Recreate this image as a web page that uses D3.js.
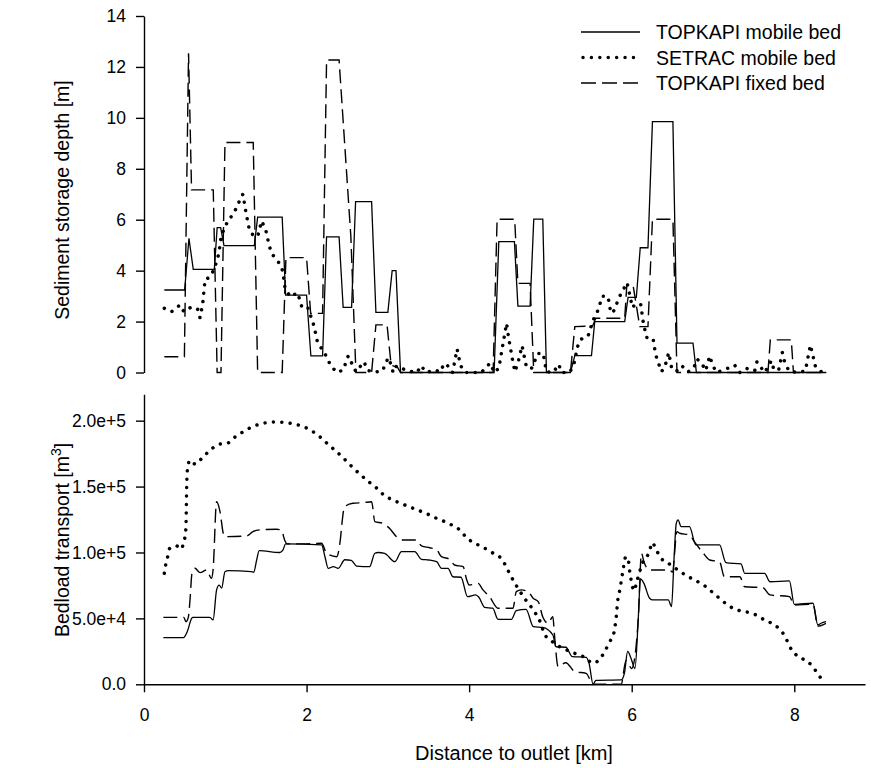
<!DOCTYPE html>
<html>
<head>
<meta charset="utf-8">
<script src="https://cdn.jsdelivr.net/npm/d3@7"></script>
<style>
  body { margin: 0; background: #fff; }
  svg { display: block; font-family: "Liberation Sans", Arial, sans-serif; }
</style>
</head>
<body>
<svg id="vis" width="871" height="768"></svg>
<script>
// legend / series names
var seriesNames = ['TOPKAPI mobile bed', 'SETRAC mobile bed', 'TOPKAPI fixed bed'];
var xTicks = [0, 2, 4, 6, 8];
var depthTicks = [0, 2, 4, 6, 8, 10, 12, 14];
var transportTicks = [0, 50000, 100000, 150000, 200000];

// sediment storage depth [m] vs distance [km]
var depthTopkapiMobile = [
  [0.25,3.24],[0.50,3.24],[0.553,5.27],[0.606,4.05],[0.865,4.05],[0.90,5.69],[0.943,5.69],
  [0.984,4.98],[1.357,4.98],[1.398,6.1],[1.70,6.1],[1.742,3.04],[2.0,3.04],[2.053,0.65],
  [2.197,0.65],[2.246,5.33],[2.40,5.33],[2.45,2.56],[2.554,2.56],[2.603,6.71],[2.80,6.71],
  [2.853,2.36],[3.0,2.36],[3.053,4.0],[3.10,4.0],[3.156,0],[4.307,0],[4.365,5.14],[4.557,5.14],
  [4.60,2.61],[4.75,2.61],[4.795,6.02],[4.906,6.02],[4.951,0],[5.246,0],[5.30,0.66],[5.505,0.66],
  [5.545,2.0],[5.914,2.0],[5.955,2.95],[6.057,2.95],[6.105,4.9],[6.2,4.9],[6.255,9.85],
  [6.507,9.85],[6.557,1.15],[6.754,1.15],[6.796,0],[8.394,0]
];
var depthSetrac = [
  [0.25,2.52],[0.34,2.39],[0.443,2.65],[0.49,2.39],[0.586,2.58],[0.66,2.48],[0.689,2.15],
  [0.722,2.69],[0.741,3.33],[0.754,3.67],[0.803,3.72],[0.864,4.05],[0.922,4.68],[0.947,5.33],
  [0.984,5.62],[1.037,5.99],[1.098,6.21],[1.147,6.54],[1.201,6.93],[1.217,7.0],[1.254,6.29],
  [1.295,5.62],[1.332,5.43],[1.398,5.33],[1.447,5.95],[1.496,5.62],[1.541,4.97],[1.578,4.64],
  [1.66,4.31],[1.705,4.0],[1.734,3.35],[1.795,2.98],[1.89,3.13],[1.946,2.52],[2.02,2.52],
  [2.09,1.84],[2.136,1.17],[2.197,0.88],[2.254,0.58],[2.296,0.26],[2.377,0.0],[2.45,0.1],
  [2.512,0.65],[2.561,0.33],[2.607,0.03],[2.709,0.42],[2.746,0.1],[2.82,0],[2.935,0.07],
  [3.004,0.58],[3.037,0.33],[3.065,0],[3.107,0.26],[3.169,0.16],[3.258,0.06],[3.36,0],
  [3.406,0.27],[3.476,0],[3.57,0.1],[3.648,0.03],[3.692,0.36],[3.734,0.27],[3.796,0],
  [3.852,0.92],[3.894,0.27],[3.955,0],[4.152,0],[4.221,0.27],[4.267,0.36],[4.303,0],
  [4.365,0.16],[4.418,1.15],[4.46,1.93],[4.492,1.25],[4.528,0.6],[4.562,0.03],[4.602,0.39],
  [4.651,1.05],[4.706,0.2],[4.767,0.16],[4.848,0.75],[4.91,0.75],[4.951,0.03],[5.033,0],
  [5.103,0.32],[5.136,0],[5.238,0],[5.291,0.36],[5.333,1.01],[5.373,1.3],[5.463,1.43],
  [5.525,2.06],[5.574,2.35],[5.64,3.0],[5.709,2.98],[5.742,2.35],[5.77,2.35],[5.853,3.0],
  [5.943,3.53],[6.009,2.55],[6.05,2.7],[6.111,2.68],[6.139,2.03],[6.181,1.38],[6.262,1.34],
  [6.295,0.69],[6.365,0.03],[6.406,0.2],[6.455,0.78],[6.496,0.1],[6.557,0.07],[6.615,0.27],
  [6.693,0.02],[6.766,0.2],[6.803,0.53],[6.857,0.39],[6.91,0.07],[6.96,0.65],[6.992,0.32],
  [7.042,0],[7.156,0.13],[7.267,0.29],[7.328,0],[7.41,0.16],[7.513,0.07],[7.541,0.42],
  [7.583,0.23],[7.636,0],[7.718,0.46],[7.75,0.1],[7.808,0.1],[7.853,0.78],[7.881,0.42],
  [7.934,0.06],[8.033,0],[8.136,0.06],[8.198,1.08],[8.263,0.2],[8.345,0]
];
var depthTopkapiFixed = [
  [0.25,0.62],[0.497,0.62],[0.548,12.54],[0.585,7.17],[0.852,7.17],[0.90,0],[0.947,0],
  [0.996,9.03],[1.344,9.03],[1.398,0],[1.70,0],[1.746,4.51],[2.0,4.51],[2.05,2.32],
  [2.197,2.32],[2.246,12.27],[2.40,12.27],[2.545,5.33],[2.607,0],[2.80,0],[2.853,1.87],
  [2.99,1.87],[3.04,0.29],[3.12,0.2],[3.156,0],[4.295,0],[4.344,6.02],[4.56,6.02],[4.60,3.5],
  [4.75,3.5],[4.795,0],[5.246,0],[5.30,1.8],[5.52,1.83],[5.557,2.13],[5.914,2.13],[5.94,3.44],
  [6.016,3.44],[6.099,1.8],[6.2,1.8],[6.255,6.02],[6.507,6.02],[6.557,0],[7.676,0],
  [7.705,1.28],[7.963,1.28],[7.99,0],[8.394,0]
];

// bedload transport [m3] vs distance [km]
var loadTopkapiMobile = [
  [0.238,35400],[0.484,35400],[0.533,40000],[0.586,50000],[0.60,50800],[0.81,50800],
  [0.85,48800],[0.893,71600],[0.925,75300],[0.955,73000],[0.996,85400],[1.037,86200],
  [1.32,85400],[1.35,85000],[1.386,94300],[1.417,101400],[1.672,100000],[1.71,102000],
  [1.742,106500],[2.185,105700],[2.226,96800],[2.266,88000],[2.33,89200],[2.39,88000],
  [2.47,94500],[2.55,94000],[2.615,89700],[2.775,89200],[2.84,99400],[2.88,100000],
  [2.96,99400],[3.086,93000],[3.168,100600],[3.33,100600],[3.414,94800],[3.5,94300],
  [3.6,93000],[3.66,88000],[3.74,88000],[3.80,81600],[3.90,81200],[3.98,66500],[4.08,67800],
  [4.12,66000],[4.19,58400],[4.29,57700],[4.355,49300],[4.52,49300],[4.58,55800],[4.70,56900],
  [4.79,43700],[4.905,43200],[5.03,37400],[5.07,28500],[5.19,28100],[5.27,21000],[5.44,20500],
  [5.475,16000],[5.525,0],[5.56,3000],[5.87,3300],[5.91,8300],[5.95,25000],[5.99,20000],
  [6.04,12000],[6.08,49000],[6.107,80000],[6.15,76600],[6.22,65300],[6.26,64000],[6.45,64000],
  [6.49,58900],[6.52,94300],[6.548,122000],[6.57,124700],[6.608,119600],[6.71,119600],
  [6.79,105700],[7.08,105700],[7.16,92300],[7.345,91300],[7.39,84200],[7.635,84200],
  [7.70,77800],[7.94,78400],[8.0,60700],[8.23,61500],[8.29,45000],[8.33,46300],[8.39,47500]
];
var loadSetrac = [
  [0.25,84200],[0.267,90500],[0.29,96300],[0.31,102700],[0.40,105000],[0.455,102500],
  [0.48,105700],[0.503,111500],[0.515,118000],[0.52,130000],[0.525,150000],[0.535,163000],
  [0.566,170000],[0.632,167000],[0.72,172000],[0.82,178000],[0.92,182000],[1.03,183000],
  [1.127,188000],[1.233,192000],[1.336,195500],[1.44,197500],[1.54,198800],[1.644,199000],
  [1.755,198500],[1.857,197300],[1.96,195500],[2.06,192400],[2.16,188000],[2.266,182000],
  [2.37,176500],[2.463,171000],[2.56,165000],[2.655,159500],[2.758,154000],[2.86,149000],
  [2.95,143600],[3.053,140000],[3.156,137300],[3.26,134800],[3.365,132200],[3.467,129700],
  [3.57,126700],[3.68,123900],[3.783,120900],[3.885,117100],[3.968,111200],[4.07,107000],
  [4.17,104000],[4.28,100000],[4.386,96000],[4.45,90000],[4.50,83700],[4.56,77000],
  [4.62,71000],[4.69,64500],[4.766,58400],[4.836,51800],[4.89,45000],[4.92,38700],
  [5.0,33600],[5.115,28500],[5.217,25500],[5.32,23000],[5.42,20500],[5.525,16000],
  [5.615,19700],[5.677,26000],[5.73,32300],[5.78,38700],[5.81,51300],[5.83,64700],
  [5.852,71000],[5.886,83700],[5.926,96400],[5.95,96400],[5.98,83700],[6.03,71000],
  [6.06,77400],[6.14,93000],[6.22,101000],[6.25,107500],[6.31,101000],[6.37,95000],
  [6.47,91000],[6.58,86200],[6.685,82000],[6.79,78600],[6.90,74600],[7.0,69500],
  [7.095,64500],[7.197,59400],[7.30,56400],[7.40,55100],[7.51,53100],[7.615,49500],
  [7.72,46300],[7.82,41700],[7.894,35400],[7.94,29000],[8.015,22800],[8.127,18400],
  [8.22,14100],[8.29,7800],[8.365,1500]
];
var loadTopkapiFixed = [
  [0.238,50800],[0.49,50800],[0.516,47500],[0.545,50800],[0.566,64000],[0.59,84200],
  [0.627,88000],[0.69,84700],[0.77,86700],[0.83,80400],[0.85,87000],[0.893,138500],
  [0.935,131000],[0.975,114600],[0.996,112000],[1.26,112500],[1.34,115800],[1.40,117000],
  [1.63,117600],[1.69,117000],[1.73,109500],[1.76,106500],[2.0,106500],[2.185,107000],
  [2.246,99400],[2.37,96800],[2.41,107000],[2.44,124700],[2.455,132000],[2.47,134800],
  [2.57,137300],[2.70,137800],[2.80,138500],[2.84,123400],[2.94,122000],[3.025,118000],
  [3.107,112000],[3.19,109500],[3.35,109500],[3.414,105000],[3.515,103600],[3.6,102000],
  [3.66,96800],[3.76,94800],[3.82,90500],[3.926,89200],[3.968,79700],[4.0,75300],
  [4.11,76600],[4.17,71600],[4.25,66500],[4.355,57700],[4.54,57700],[4.58,70300],
  [4.64,71600],[4.725,70300],[4.787,65300],[4.85,62700],[4.905,51300],[4.97,46300],
  [5.03,51300],[5.05,37400],[5.094,13400],[5.19,16400],[5.30,9600],[5.44,8300],[5.525,0],
  [5.87,0],[5.93,18000],[6.0,12000],[6.08,49000],[6.12,99400],[6.15,93000],[6.22,86700],
  [6.47,86700],[6.50,85000],[6.557,115800],[6.59,114600],[6.71,113300],[6.77,108200],
  [6.875,99900],[6.96,94300],[7.08,93000],[7.14,81600],[7.33,81600],[7.39,74000],
  [7.615,73300],[7.70,67800],[7.94,66500],[8.0,60200],[8.23,60700],[8.29,44200],[8.39,46300]
];

var svg = d3.select('#vis');

var x = d3.scaleLinear().domain([0, 8.87]).range([144, 865]);
var yTop = d3.scaleLinear().domain([0, 14]).range([372.5, 16]);
var yBot = d3.scaleLinear().domain([0, 220000]).range([684.3, 394.3]);

// one stroke style per series: solid, dotted, dashed
var styles = [
  { width: 1.3, dash: null, cap: 'butt' },
  { width: 3.5, dash: '0.01 8.4', cap: 'round' },
  { width: 1.4, dash: '14 6', cap: 'butt' }
];

function drawLine(data, yScale, style, curve) {
  var line = d3.line()
    .curve(curve || d3.curveLinear)
    .x(function(d) { return x(d[0]); })
    .y(function(d) { return yScale(d[1]); });
  svg.append('path')
    .datum(data)
    .attr('d', line)
    .attr('fill', 'none')
    .attr('stroke', '#000')
    .attr('stroke-width', style.width)
    .attr('stroke-linecap', style.cap)
    .attr('stroke-dasharray', style.dash);
}

// top panel: straight segments
drawLine(depthTopkapiMobile, yTop, styles[0]);
drawLine(depthTopkapiFixed, yTop, styles[2]);
drawLine(depthSetrac, yTop, styles[1]);

// bottom panel: smoothed steps
drawLine(loadTopkapiMobile, yBot, styles[0], d3.curveMonotoneX);
drawLine(loadTopkapiFixed, yBot, styles[2], d3.curveMonotoneX);
drawLine(loadSetrac, yBot, styles[1], d3.curveMonotoneX);

function styleAxis(g, size) {
  g.selectAll('path, line').attr('stroke', '#000').attr('stroke-width', 1.4);
  g.selectAll('text').attr('font-size', size).attr('fill', '#000')
    .attr('font-family', '"Liberation Sans", Arial, sans-serif');
}

var axTop = svg.append('g').attr('transform', 'translate(144,0)')
  .call(d3.axisLeft(yTop).tickValues(depthTicks).tickSize(8).tickSizeOuter(0).tickPadding(10));
styleAxis(axTop, 17.5);

var fmtLoad = function(d) { return d === 0 ? '0.0' : d3.format('.1e')(d); };
var axBot = svg.append('g').attr('transform', 'translate(144,0)')
  .call(d3.axisLeft(yBot).tickValues(transportTicks).tickFormat(fmtLoad)
    .tickSize(8).tickSizeOuter(0).tickPadding(10));
styleAxis(axBot, 17.5);

var axX = svg.append('g').attr('transform', 'translate(0,684.3)')
  .call(d3.axisBottom(x).tickValues(xTicks).tickSize(8).tickSizeOuter(0).tickPadding(16));
styleAxis(axX, 17.5);

// axis titles
svg.append('text')
  .attr('transform', 'translate(69,200) rotate(-90)')
  .attr('text-anchor', 'middle').attr('font-size', 19.5)
  .text('Sediment storage depth [m]');

var bt = svg.append('text')
  .attr('transform', 'translate(69,540) rotate(-90)')
  .attr('text-anchor', 'middle').attr('font-size', 19.5);
bt.append('tspan').text('Bedload transport [m');
bt.append('tspan').attr('dy', -8).attr('font-size', 14).text('3');
bt.append('tspan').attr('dy', 8).text(']');

svg.append('text')
  .attr('x', 514).attr('y', 760)
  .attr('text-anchor', 'middle').attr('font-size', 20)
  .text('Distance to outlet [km]');

// legend
var legend = svg.append('g');
seriesNames.forEach(function(name, i) {
  var ly = 32 + i * 25.5;
  var s = styles[i];
  legend.append('line')
    .attr('x1', i === 1 ? 583 : 581).attr('x2', 640)
    .attr('y1', ly).attr('y2', ly)
    .attr('stroke', '#000')
    .attr('stroke-width', s.width)
    .attr('stroke-linecap', s.cap)
    .attr('stroke-dasharray', s.dash === '14 6' ? '15 6' : s.dash);
  legend.append('text')
    .attr('x', 656).attr('y', ly + 7)
    .attr('font-size', 19.5)
    .text(name);
});
</script>
</body>
</html>
